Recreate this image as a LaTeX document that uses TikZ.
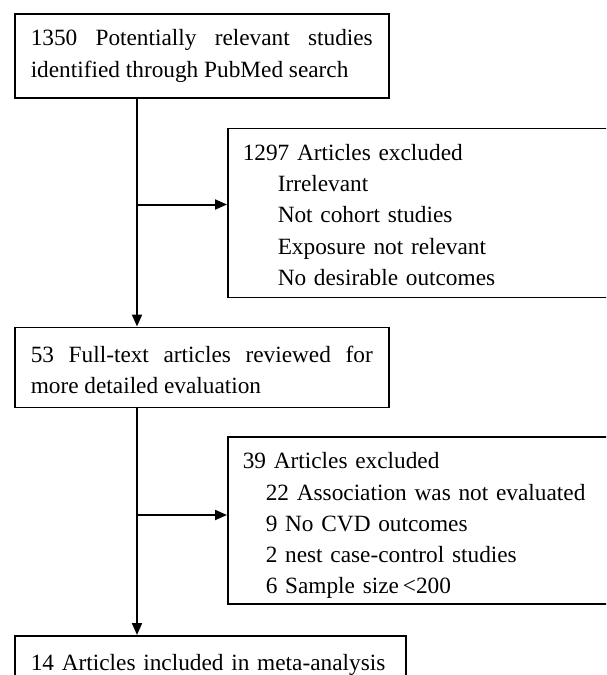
\documentclass[tikz,border=0pt]{standalone}
\usepackage{fontspec}
\setmainfont{Liberation Serif}
\usetikzlibrary{positioning, arrows.meta}

\begin{document}
\hyphenpenalty=10000
\tolerance=10000
\begin{tikzpicture}[->,>={Triangle[length=12pt,width=10pt]},line width=2pt,
      every node/.style={font=\fontsize{23.3}{31.3}\selectfont},
      main node/.style={draw,line width=1.5pt,inner xsep=16pt,inner ysep=0pt,
        text width=342pt,align=justify,text height=32pt,text depth=52pt},
      excl node/.style={draw,line width=1.5pt,inner xsep=15pt,inner ysep=0pt,
        text width=393pt,align=left,text height=32pt}]
    \useasboundingbox (0,0) rectangle (606pt,-675pt);
    \clip (0,0) rectangle (606pt,-675pt);

        \node[main node,anchor=north west] (1) at (14pt,-13pt)
            {1350 Potentially relevant studies identified through PubMed search};
        \node[excl node,text depth=137pt] (2) [below right=29pt and 213pt of 1.south west]
            {1297 Articles excluded\\
             \hspace*{35pt}Irrelevant\\
             \hspace*{35pt}Not cohort studies\\
             \hspace*{35pt}Exposure not relevant\\
             \hspace*{35pt}No desirable outcomes};
        \node[main node,text height=35pt,text depth=45pt] (3) [below=228pt of 1.south west,anchor=north west]
            {53 Full-text articles reviewed for more detailed evaluation};
        \node[excl node,text depth=135pt] (4) [below right=28pt and 213pt of 3.south west]
            {39 Articles excluded\\
             \hspace*{23pt}22 Association was not evaluated\\
             \hspace*{23pt}9 No CVD outcomes\\
             \hspace*{23pt}2 nest case-control studies\\
             \hspace*{23pt}6 Sample size\,<200};
        \node[main node,align=left,text width=359pt,text height=35pt,text depth=45pt] (5) [below=227pt of 3.south west,anchor=north west]
            {14 Articles included in meta-analysis};

        \coordinate[right=123pt of 1.south west] (t1);
        \coordinate[below=106pt of t1] (b1);
        \coordinate[right=123pt of 3.south west] (t2);
        \coordinate[below=107pt of t2] (b2);

        \path
            (t1) edge (t1 |- 3.north)
            (b1) edge (b1 -| 2.west)
            (t2) edge (t2 |- 5.north)
            (b2) edge (b2 -| 4.west)
        ;
    \end{tikzpicture}
\end{document}
